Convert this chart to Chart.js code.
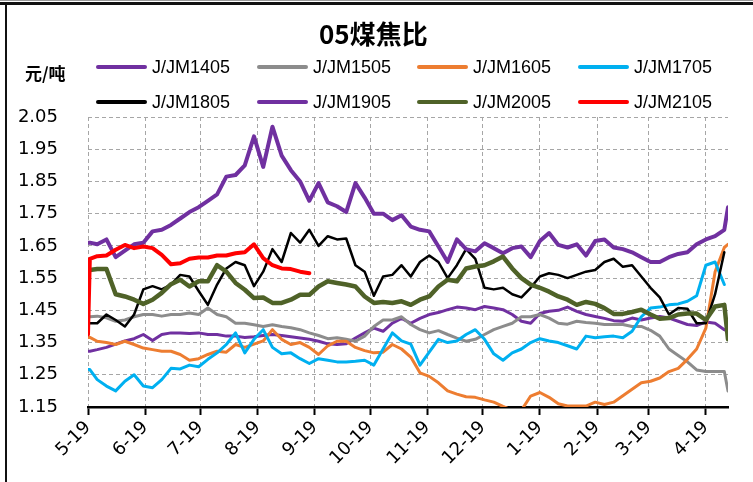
<!DOCTYPE html>
<html><head><meta charset="utf-8">
<script src="https://cdn.jsdelivr.net/npm/chart.js@4.4.0/dist/chart.umd.min.js"></script>
<style>
html,body{margin:0;padding:0;background:#fff;}
#wrap{position:relative;width:753px;height:482px;overflow:hidden;background:#fff;}
#c{position:absolute;left:0;top:0;}
.t{position:absolute;white-space:nowrap;transform-origin:0 0;color:#000;}
.lg{position:absolute;height:4px;border-radius:2px;}
</style></head><body>
<div id="wrap">
<canvas id="c" width="753" height="482"></canvas>
<div style="position:absolute;left:0;top:0;width:753px;height:1px;background:#9a9a9a"></div>
<div style="position:absolute;left:0;top:2px;width:753px;height:3px;background:#111"></div>
<div style="position:absolute;left:5px;top:5px;width:2px;height:477px;background:#111"></div>
<div id="title" class="t" style="left:319px;top:20px;font:bold 26px 'Noto Sans CJK SC';line-height:26px">05煤焦比</div>
<div id="unit" class="t" style="left:25px;top:64px;font:bold 17px 'Noto Sans CJK SC';line-height:17px">元/吨</div>
<div id="legend"></div>
</div>
<script>
// ---- data ----
const monthLabels = ['5-19','6-19','7-19','8-19','9-19','10-19','11-19','12-19','1-19','2-19','3-19','4-19'];
const monthDays = [0,31,61,92,123,153,184,214,245,276,304,335];
const yTickValues = [1.15,1.25,1.35,1.45,1.55,1.65,1.75,1.85,1.95,2.05];
const days = [0,1,5,10,15,20,25,30,35,40,45,50,55,60,65,70,75,80,85,90,95,100,105,110,115,120,125,130,135,140,145,150,155,160,165,170,175,180,185,190,195,200,205,210,215,220,225,230,235,240,245,250,255,260,265,270,275,280,285,290,295,300,305,310,315,320,325,330,335,340,345,347];
const seriesNames = ['J/JM1405','J/JM1505','J/JM1605','J/JM1705','J/JM1805','J/JM1905','J/JM2005','J/JM2105'];

const j1405 = [1.323,1.323,1.328,1.335,1.345,1.355,1.362,1.375,1.356,1.375,
 1.38,1.38,1.378,1.38,1.375,1.375,1.37,1.37,1.366,1.368,
 1.372,1.375,1.372,1.368,1.364,1.36,1.354,1.346,1.344,1.346,
 1.364,1.38,1.395,1.385,1.41,1.425,1.41,1.425,1.437,1.443,
 1.452,1.46,1.457,1.452,1.462,1.457,1.452,1.437,1.416,1.41,
 1.44,1.447,1.45,1.46,1.447,1.437,1.431,1.425,1.418,1.416,
 1.426,1.42,1.426,1.431,1.426,1.416,1.406,1.403,1.414,1.41,
 1.39,1.385];
const j1505 = [1.43,1.43,1.432,1.427,1.416,1.42,1.43,1.437,1.437,1.432,
 1.437,1.437,1.442,1.437,1.457,1.437,1.43,1.41,1.41,1.405,
 1.40,1.405,1.40,1.396,1.39,1.38,1.372,1.362,1.365,1.36,
 1.354,1.37,1.40,1.42,1.42,1.43,1.406,1.39,1.38,1.387,
 1.375,1.364,1.354,1.36,1.375,1.39,1.40,1.41,1.43,1.43,
 1.437,1.426,1.41,1.407,1.416,1.412,1.41,1.406,1.406,1.406,
 1.40,1.40,1.388,1.37,1.33,1.31,1.29,1.265,1.26,1.26,
 1.26,1.20];
const j1605 = [1.366,1.366,1.354,1.35,1.344,1.354,1.344,1.333,1.328,1.323,
 1.323,1.313,1.295,1.30,1.313,1.323,1.32,1.344,1.335,1.345,
 1.355,1.39,1.36,1.344,1.35,1.335,1.313,1.34,1.354,1.354,
 1.335,1.325,1.318,1.32,1.344,1.33,1.305,1.256,1.245,1.225,
 1.20,1.19,1.182,1.18,1.172,1.165,1.152,1.14,1.14,1.184,
 1.195,1.18,1.16,1.153,1.153,1.153,1.165,1.158,1.165,1.185,
 1.205,1.225,1.23,1.24,1.26,1.27,1.298,1.33,1.395,1.57,
 1.645,1.655];
const j1705 = [1.266,1.266,1.235,1.215,1.20,1.23,1.25,1.215,1.21,1.235,
 1.27,1.268,1.28,1.275,1.298,1.318,1.344,1.38,1.318,1.36,
 1.39,1.335,1.315,1.318,1.30,1.285,1.30,1.295,1.29,1.29,
 1.292,1.295,1.28,1.33,1.38,1.355,1.345,1.28,1.32,1.36,
 1.35,1.355,1.375,1.39,1.36,1.315,1.295,1.318,1.33,1.35,
 1.362,1.355,1.35,1.34,1.33,1.37,1.365,1.368,1.37,1.365,
 1.385,1.43,1.457,1.46,1.467,1.47,1.478,1.495,1.59,1.60,
 1.53,null];
const j1805 = [1.41,1.41,1.41,1.437,1.42,1.40,1.437,1.515,1.525,1.515,
 1.53,1.56,1.555,1.51,1.467,1.53,1.58,1.60,1.59,1.525,
 1.57,1.64,1.60,1.69,1.66,1.70,1.65,1.68,1.67,1.673,
 1.59,1.57,1.495,1.555,1.56,1.59,1.555,1.60,1.62,1.60,
 1.55,1.59,1.64,1.61,1.52,1.515,1.52,1.50,1.49,1.52,
 1.555,1.565,1.56,1.55,1.56,1.57,1.575,1.60,1.61,1.585,
 1.59,1.555,1.52,1.49,1.437,1.457,1.455,1.41,1.41,1.50,
 1.63,null];
const j1905 = [1.66,1.66,1.655,1.67,1.615,1.635,1.655,1.66,1.695,1.70,
 1.715,1.735,1.755,1.77,1.79,1.81,1.865,1.87,1.90,1.99,
 1.895,2.02,1.93,1.885,1.85,1.79,1.845,1.785,1.773,1.755,
 1.845,1.80,1.75,1.75,1.73,1.745,1.71,1.70,1.695,1.648,
 1.60,1.67,1.64,1.633,1.658,1.643,1.627,1.643,1.648,1.615,
 1.665,1.69,1.653,1.645,1.655,1.62,1.665,1.67,1.645,1.64,
 1.63,1.615,1.60,1.60,1.615,1.625,1.63,1.655,1.67,1.68,
 1.70,1.77];
const j2005 = [1.575,1.575,1.578,1.578,1.50,1.493,1.483,1.47,1.483,1.504,
 1.531,1.545,1.524,1.54,1.54,1.59,1.57,1.535,1.514,1.488,
 1.49,1.473,1.473,1.483,1.498,1.498,1.524,1.54,1.535,1.53,
 1.524,1.493,1.473,1.476,1.473,1.478,1.467,1.483,1.493,1.524,
 1.545,1.54,1.58,1.586,1.59,1.602,1.617,1.58,1.55,1.53,
 1.52,1.508,1.493,1.483,1.467,1.476,1.47,1.457,1.439,1.439,
 1.445,1.452,1.437,1.424,1.426,1.437,1.44,1.44,1.42,1.462,
 1.467,1.36];
const j2105 = [1.375,1.61,1.618,1.62,1.638,1.653,1.643,1.648,1.643,1.622,
 1.593,1.596,1.61,1.614,1.614,1.62,1.62,1.627,1.63,1.655,
 1.612,1.59,1.58,1.578,1.57,1.565,null,null,null,null,
 null,null,null,null,null,null,null,null,null,null,
 null,null,null,null,null,null,null,null,null,null,
 null,null,null,null,null,null,null,null,null,null,
 null,null,null,null,null,null,null,null,null,null,
 null,null];

const seriesData = [j1405,j1505,j1605,j1705,j1805,j1905,j2005,j2105];

// ---- styles ----
const colors = ['#7030A0','#8C8C8C','#ED7D31','#00B0F0','#000000','#7030A0','#4F6228','#FF0000'];
const widths = [3,3,3,3,2.5,4,4.5,4];
const legendColX = [96,257,417,578];
const legendRowY = [67,102];

// ---- legend (HTML text) ----
const lg = document.getElementById('legend');
seriesNames.forEach((name,i)=>{
  const col = i % 4, row = Math.floor(i/4);
  const ln = document.createElement('div');
  ln.className = 'lg';
  ln.style.left = legendColX[col] + 'px';
  ln.style.top = (legendRowY[row] - 2) + 'px';
  ln.style.width = '51px';
  ln.style.background = colors[i];
  lg.appendChild(ln);
  const tx = document.createElement('div');
  tx.className = 't legtext';
  tx.style.left = (legendColX[col] + 56) + 'px';
  tx.style.top = (legendRowY[row] - 9) + 'px';
  tx.style.font = "18px 'Liberation Sans'";
  tx.style.lineHeight = '18px';
  tx.textContent = name;
  lg.appendChild(tx);
});
function fitWidth(el, w){
  const r = el.getBoundingClientRect().width;
  if (r > 0) el.style.transform = 'scaleX(' + (w / r) + ')';
}
function doFit(){
  fitWidth(document.getElementById('title'), 142);
  fitWidth(document.getElementById('unit'), 55);
  document.querySelectorAll('.legtext').forEach(e=>fitWidth(e, 89));
}
doFit();
if (document.fonts && document.fonts.ready) document.fonts.ready.then(doFit);

// ---- chart ----
const tickFont = {family: "'DejaVu Sans'", size: 18};
new Chart(document.getElementById('c'), {
  type: 'line',
  data: {
    datasets: seriesNames.map((name,i)=>({
      label: name,
      data: days.map((d,k)=>({x:d, y:seriesData[i][k]})),
      borderColor: colors[i],
      backgroundColor: colors[i],
      borderWidth: widths[i],
      pointRadius: 0,
      pointHoverRadius: 0,
      fill: false,
      tension: 0,
      spanGaps: false,
      borderJoinStyle: 'round',
      borderCapStyle: 'round',
      order: 8 - i
    }))
  },
  options: {
    responsive: false,
    animation: false,
    devicePixelRatio: 1,
    layout: {padding: {top: 117, right: 25, bottom: 0, left: 0}},
    plugins: {legend: {display: false}, tooltip: {enabled: false}, title: {display: false}},
    scales: {
      x: {
        type: 'linear',
        min: 0, max: 347,
        afterBuildTicks: s => { s.ticks = monthDays.map(v => ({value: v})); },
        afterFit: s => { s.height = 75; },
        ticks: {
          autoSkip: false, maxRotation: 45, minRotation: 45,
          font: tickFont, color: '#000', padding: 2,
          callback: v => monthLabels[monthDays.indexOf(v)]
        },
        grid: {color: '#a6a6a6', lineWidth: 1, drawTicks: true, tickLength: 8, tickWidth: 2, tickColor: '#000', tickBorderDash: []},
        border: {display: true, color: '#000', width: 2.5, dash: [4,3]}
      },
      y: {
        type: 'linear',
        min: 1.15, max: 2.05,
        afterBuildTicks: s => { s.ticks = yTickValues.map(v => ({value: v})); },
        afterFit: s => { s.width = 88; },
        ticks: {font: tickFont, color: '#000', padding: 30, callback: v => Number(v).toFixed(2)},
        grid: {color: '#a6a6a6', lineWidth: 1, drawTicks: false},
        border: {display: false, dash: [4,3]}
      }
    }
  }
});
</script>
</body></html>
